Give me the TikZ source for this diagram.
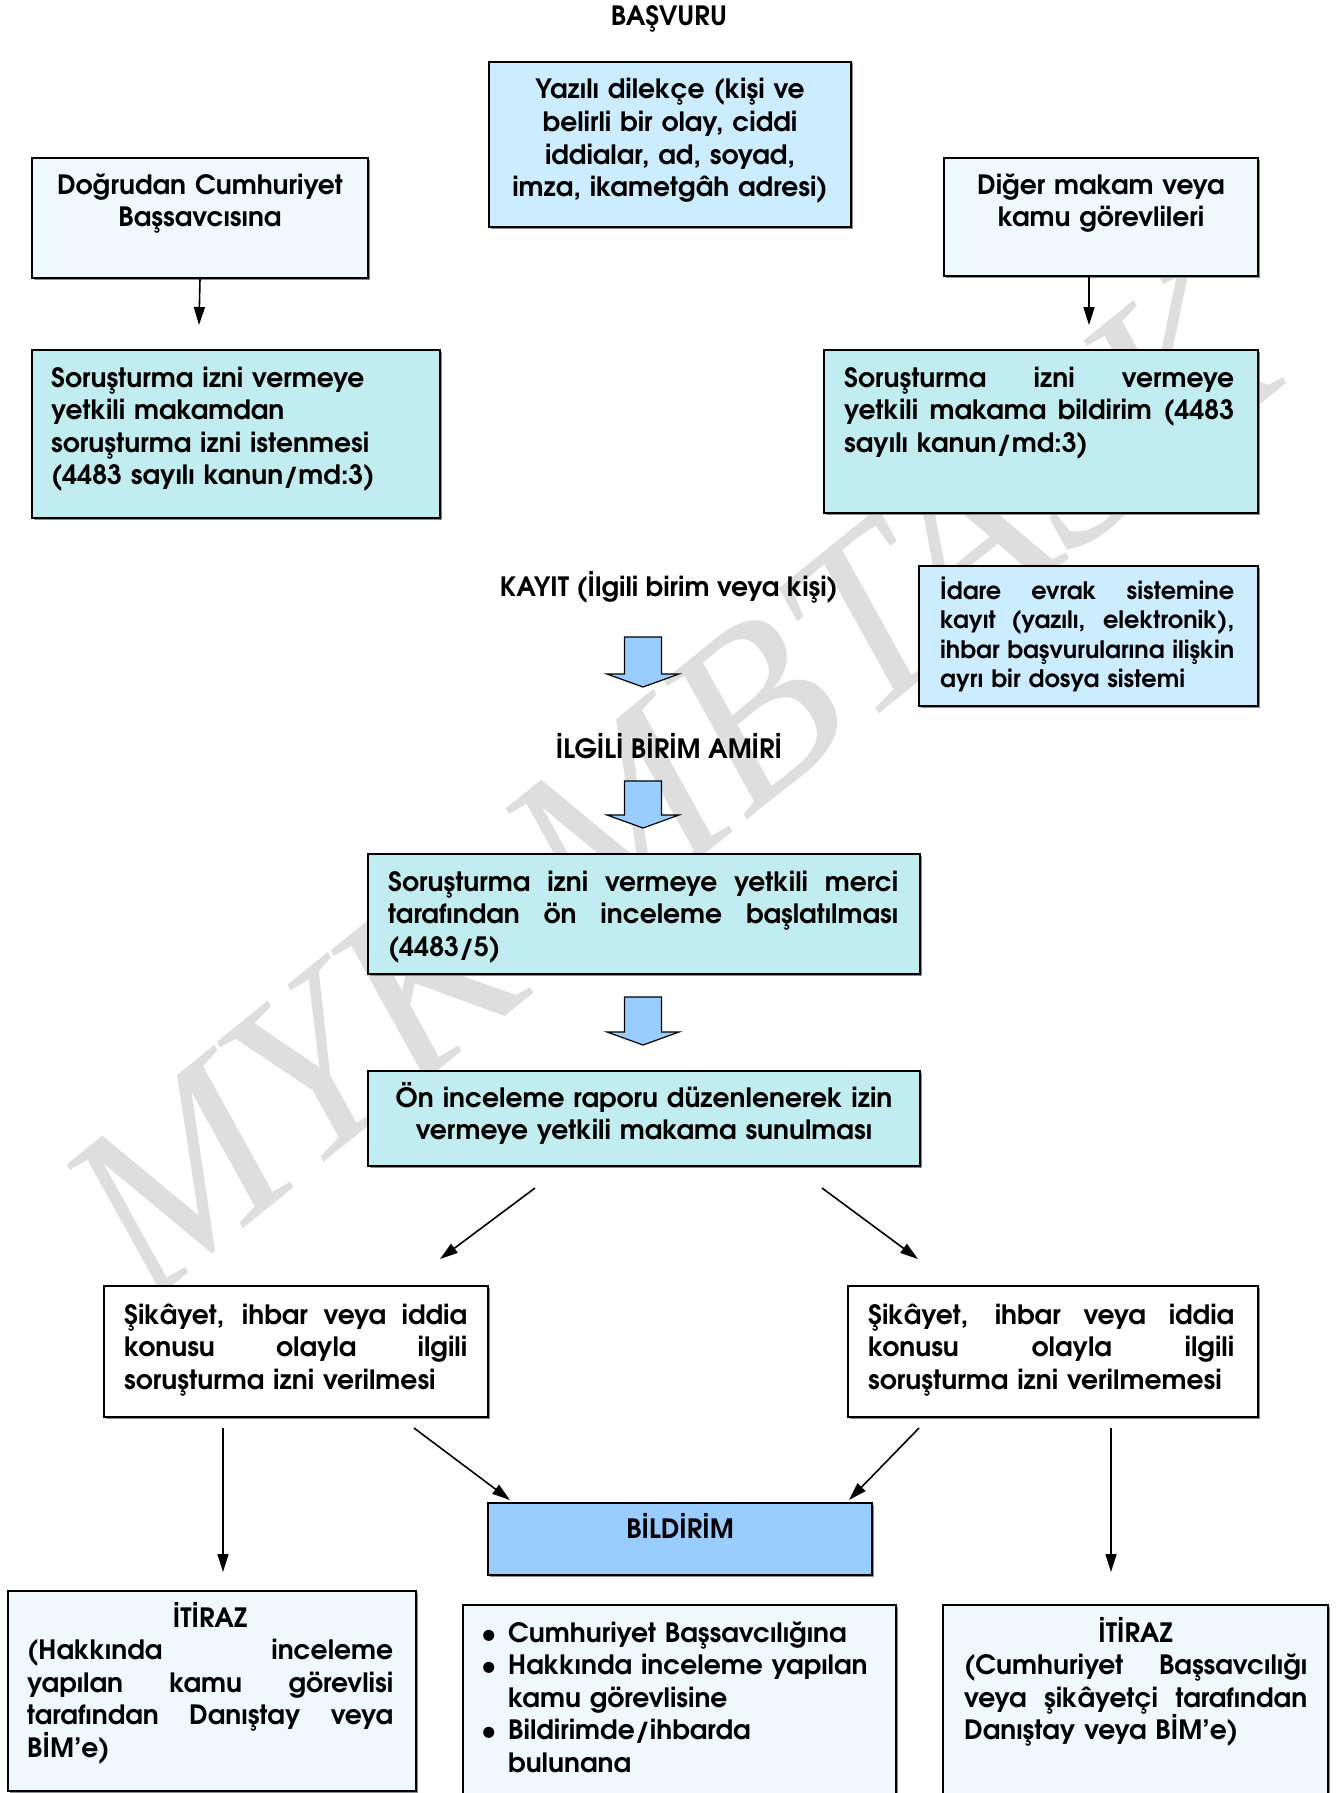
\documentclass[tikz,border=0pt]{standalone}
\usepackage{fontspec}
\setmainfont{texgyreadventor}[Extension=.otf, UprightFont=*-regular, BoldFont=*-bold, ItalicFont=*-italic, BoldItalicFont=*-bolditalic]
\newfontfamily\wmfont{Liberation Serif}
\usetikzlibrary{arrows.meta,shadows,calc}
\definecolor{paleblue}{HTML}{EFF9FB}
\definecolor{skyblue}{HTML}{CCECFF}
\definecolor{aqua}{HTML}{C1EDF0}
\definecolor{midblue}{HTML}{99CCFF}
\definecolor{wmgray}{HTML}{DEDEDE}
% one justified line filling the text width (font interword glue restored)
\newcommand\jl[1]{\makebox[\linewidth][s]{\spaceskip=0pt \xspaceskip=0pt #1}}
% hollow block arrow: shaft from #1 down to the head, tip at #2
\newcommand\blockarrow[2]{%
  \draw[barrow] ($(#1)+(-18.5,0)$) -- ($(#1)+(18.5,0)$) -- ($(#2)+(18.5,-13)$)
    -- ($(#2)+(36,-13)$) -- (#2) -- ($(#2)+(-36,-13)$) -- ($(#2)+(-18.5,-13)$) -- cycle;}
\begin{document}
\begin{tikzpicture}[x=1pt,y=-1pt,
  box/.style={draw=black, line width=2pt, anchor=north west, inner sep=0pt,
    drop shadow={shadow xshift=1.5pt, shadow yshift=-1.5pt, fill=black!45, opacity=1}},
  txt/.style={inner sep=0pt, font=\bfseries\fontsize{26.6}{32.6}\selectfont, align=left, anchor=base west},
  ctxt/.style={txt, align=center, anchor=base},
  small/.style={font=\bfseries\fontsize{24}{29.6}\selectfont},
  link/.style={line width=1.6pt, -{Triangle[length=18pt,width=11pt]}},
  barrow/.style={draw=black, line width=1.2pt, fill=midblue, line join=miter},
]
\useasboundingbox[fill=white] (0,0) rectangle (1338,1793);

% watermark behind everything
\node[rotate=39, text=wmgray, inner sep=0pt,
  font=\wmfont\itshape\fontsize{245}{245}\selectfont] (wm) at (670,780) {MYK MBTASK};

% ---- application
\node[ctxt] (basvuru) at (669,26) {BAŞVURU};

\node[box, fill=skyblue, minimum width=362pt, minimum height=165pt] (yaz) at (488,61) {};
\node[ctxt, text width=350pt] (yazT) at (yaz.north |- 0,99)
  {Yazılı dilekçe (kişi ve\\ belirli bir olay, ciddi\\ iddialar, ad, soyad,\\ imza, ikametgâh adresi)};

\node[box, fill=paleblue, minimum width=336pt, minimum height=120pt] (dog) at (31,157) {};
\node[ctxt, text width=320pt] (dogT) at (dog.north |- 0,194) {Doğrudan Cumhuriyet\\ Başsavcısına};

\node[box, fill=paleblue, minimum width=314pt, minimum height=118pt] (dig) at (943,157) {};
\node[ctxt, text width=300pt] (digT) at (dig.north |- 0,194) {Diğer makam veya\\ kamu görevlileri};

\node[box, fill=aqua, minimum width=408pt, minimum height=168pt] (sorL) at (31,349) {};
\node[txt, text width=375pt] (sorLT) at (51,387)
  {Soruşturma izni vermeye\\ yetkili makamdan\\ soruşturma izni istenmesi\\ (4483 sayılı kanun/md:3)};

\node[box, fill=aqua, minimum width=434pt, minimum height=163pt] (sorR) at (823,349) {};
\node[txt, text width=390pt] (sorRT) at (844,387)
  {\jl{Soruşturma izni vermeye}\\ \jl{yetkili makama bildirim (4483}\\ sayılı kanun/md:3)};

\coordinate (dogE) at (199,325);
\coordinate (digE) at (1089,325);
\draw[link] (dog.south) -- (dogE);
\draw[link] (digE |- dig.south) -- (digE);

% ---- registration
\node[ctxt] (kayit) at (669,596) {KAYIT (İlgili birim veya kişi)};

\node[box, fill=skyblue, minimum width=339pt, minimum height=140pt] (idare) at (918,565) {};
\node[txt, small, text width=294pt] (idareT) at (940,599)
  {\jl{İdare evrak sistemine}\\ \jl{kayıt (yazılı, elektronik),}\\ \jl{ihbar başvurularına ilişkin}\\ ayrı bir dosya sistemi};

\coordinate (a1s) at (643,637); \coordinate (a1t) at (643,687);
\blockarrow{a1s}{a1t}

\node[ctxt] (amir) at (669,758) {İLGİLİ BİRİM AMİRİ};

\coordinate (a2s) at (643,781); \coordinate (a2t) at (643,828);
\blockarrow{a2s}{a2t}

% ---- preliminary inquiry
\node[box, fill=aqua, minimum width=552pt, minimum height=120pt] (merci) at (367,853) {};
\node[txt, text width=510pt] (merciT) at (388,891)
  {\jl{Soruşturma izni vermeye yetkili merci}\\ \jl{tarafından ön inceleme başlatılması}\\ (4483/5)};

\coordinate (a3s) at (643,997); \coordinate (a3t) at (643,1045);
\blockarrow{a3s}{a3t}

\node[box, fill=aqua, minimum width=552pt, minimum height=95pt] (on) at (367,1070) {};
\node[ctxt, text width=530pt] (onT) at (on.north |- 0,1107)
  {Ön inceleme raporu düzenlenerek izin\\ vermeye yetkili makama sunulması};

% ---- decision
\node[box, fill=white, minimum width=384pt, minimum height=131pt] (sikL) at (103,1285) {};
\node[txt, text width=343pt] (sikLT) at (124,1324)
  {\jl{Şikâyet, ihbar veya iddia}\\ \jl{konusu olayla ilgili}\\ soruşturma izni verilmesi};

\node[box, fill=white, minimum width=410pt, minimum height=131pt] (sikR) at (847,1285) {};
\node[txt, text width=366pt] (sikRT) at (868,1324)
  {\jl{Şikâyet, ihbar veya iddia}\\ \jl{konusu olayla ilgili}\\ soruşturma izni verilmemesi};

\coordinate (dLs) at (535,1188); \coordinate (dLe) at (440,1259);
\coordinate (dRs) at (822,1188); \coordinate (dRe) at (918,1259);
\draw[link] (dLs) -- (dLe);
\draw[link] (dRs) -- (dRe);

% ---- notification and objection
\node[box, fill=midblue, minimum width=384pt, minimum height=72pt] (bild) at (487,1502) {};
\node[ctxt] (bildT) at (bild.north |- 0,1538) {BİLDİRİM};

\coordinate (vLs) at (223,1428); \coordinate (vLe) at (223,1572);
\coordinate (bLs) at (414,1428); \coordinate (bLe) at (510,1500);
\coordinate (bRs) at (919,1428); \coordinate (bRe) at (849,1500);
\coordinate (vRs) at (1111,1428); \coordinate (vRe) at (1111,1572);
\draw[link] (vLs) -- (vLe);
\draw[link] (bLs) -- (bLe);
\draw[link] (bRs) -- (bRe);
\draw[link] (vRs) -- (vRe);

\node[box, fill=paleblue, minimum width=408pt, minimum height=200pt] (itL) at (7,1590) {};
\node[txt, text width=366pt] (itLT) at (27,1627)
  {\makebox[\linewidth]{İTİRAZ}\\ \jl{(Hakkında inceleme}\\ \jl{yapılan kamu görevlisi}\\ \jl{tarafından Danıştay veya}\\ BİM’e)};

\node[box, fill=paleblue, minimum width=433pt, minimum height=215pt] (bul) at (462,1604) {};
\node[txt, text width=400pt] (bulT) at (481,1642)
  {\makebox[27pt][l]{\textbullet}Cumhuriyet Başsavcılığına\\
   \makebox[27pt][l]{\textbullet}Hakkında inceleme yapılan\\
   \hspace*{27pt}kamu görevlisine\\
   \makebox[27pt][l]{\textbullet}Bildirimde/ihbarda\\
   \hspace*{27pt}bulunana};

\node[box, fill=paleblue, minimum width=385pt, minimum height=215pt] (itR) at (942,1604) {};
\node[txt, text width=343pt] (itRT) at (964,1642)
  {\makebox[\linewidth]{İTİRAZ}\\ \jl{(Cumhuriyet Başsavcılığı}\\ \jl{veya şikâyetçi tarafından}\\ Danıştay veya BİM’e)};
\end{tikzpicture}
\end{document}
